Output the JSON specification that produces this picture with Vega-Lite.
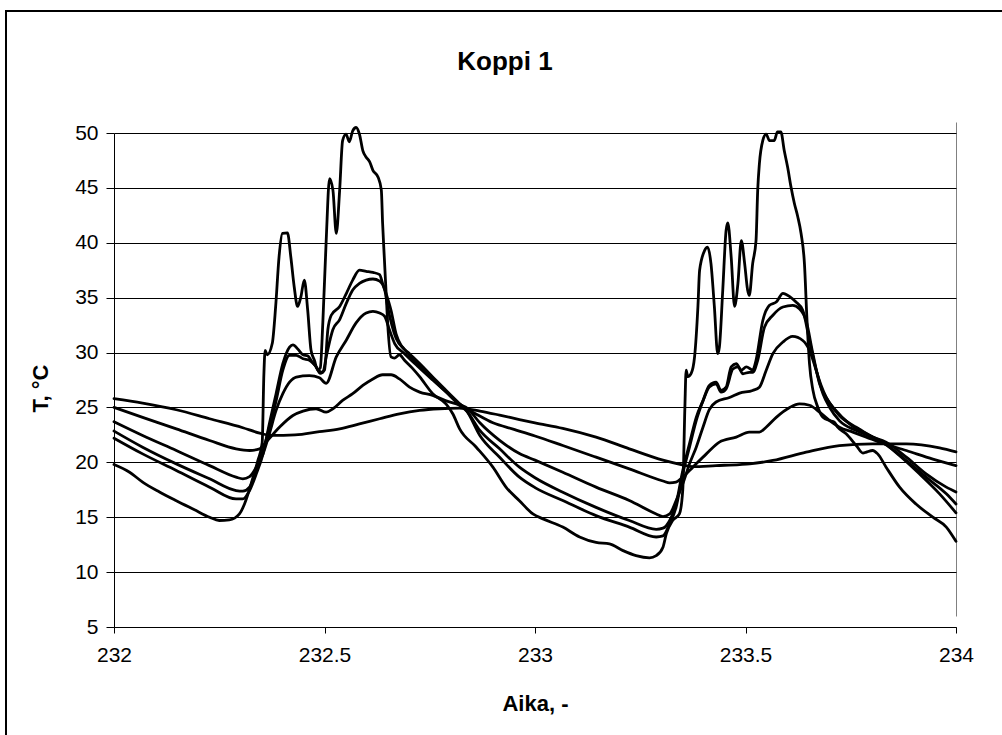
{
  "$schema": "https://vega.github.io/schema/vega-lite/v6.json",
  "width": 998,
  "height": 727,
  "autosize": {"type": "none"},
  "padding": {"left": 6, "top": 11, "right": -2, "bottom": -3},
  "background": "white",
  "config": {
    "font": "Liberation Sans",
    "view": {"stroke": "black", "strokeWidth": 2}
  },
  "title": {
    "text": "Koppi 1",
    "font": "Liberation Sans",
    "fontSize": 26,
    "fontWeight": "bold",
    "color": "black",
    "anchor": "middle",
    "offset": -64
  },
  "data": {
    "values": [
      {"s":"A","x":232.0,"t":19.8},{"s":"A","x":232.037,"t":19.1},{"s":"A","x":232.068,"t":18.2},{"s":"A","x":232.108,"t":17.3},{"s":"A","x":232.148,"t":16.5},{"s":"A","x":232.19,"t":15.7},{"s":"A","x":232.227,"t":15.0},{"s":"A","x":232.25,"t":14.7},{"s":"A","x":232.274,"t":14.75},{"s":"A","x":232.298,"t":15.3},{"s":"A","x":232.31,"t":16.2},{"s":"A","x":232.33,"t":18.6},{"s":"A","x":232.342,"t":20.2},{"s":"A","x":232.352,"t":21.8},{"s":"A","x":232.356,"t":28.0},{"s":"A","x":232.359,"t":30.2},{"s":"A","x":232.364,"t":29.8},{"s":"A","x":232.376,"t":30.85},{"s":"A","x":232.384,"t":34.2},{"s":"A","x":232.392,"t":38.7},{"s":"A","x":232.4,"t":40.85},{"s":"A","x":232.412,"t":40.9},{"s":"A","x":232.42,"t":38.7},{"s":"A","x":232.428,"t":36.0},{"s":"A","x":232.436,"t":34.2},{"s":"A","x":232.444,"t":35.1},{"s":"A","x":232.452,"t":36.6},{"s":"A","x":232.46,"t":33.9},{"s":"A","x":232.468,"t":30.2},{"s":"A","x":232.476,"t":29.3},{"s":"A","x":232.484,"t":28.4},{"s":"A","x":232.49,"t":28.6},{"s":"A","x":232.496,"t":32.7},{"s":"A","x":232.504,"t":40.2},{"s":"A","x":232.512,"t":45.85},{"s":"A","x":232.52,"t":44.8},{"s":"A","x":232.528,"t":40.85},{"s":"A","x":232.536,"t":44.8},{"s":"A","x":232.543,"t":49.3},{"s":"A","x":232.551,"t":49.9},{"s":"A","x":232.559,"t":49.2},{"s":"A","x":232.567,"t":50.2},{"s":"A","x":232.575,"t":50.5},{"s":"A","x":232.583,"t":49.9},{"s":"A","x":232.591,"t":48.4},{"s":"A","x":232.599,"t":47.8},{"s":"A","x":232.607,"t":47.4},{"s":"A","x":232.615,"t":46.6},{"s":"A","x":232.627,"t":46.0},{"s":"A","x":232.635,"t":44.8},{"s":"A","x":232.638,"t":41.8},{"s":"A","x":232.642,"t":38.7},{"s":"A","x":232.646,"t":35.7},{"s":"A","x":232.65,"t":32.7},{"s":"A","x":232.658,"t":29.6},{"s":"A","x":232.666,"t":29.5},{"s":"A","x":232.678,"t":29.8},{"s":"A","x":232.69,"t":29.3},{"s":"A","x":232.708,"t":28.6},{"s":"A","x":232.726,"t":27.8},{"s":"A","x":232.757,"t":26.25},{"s":"A","x":232.789,"t":25.3},{"s":"A","x":232.805,"t":24.4},{"s":"A","x":232.821,"t":23.05},{"s":"A","x":232.86,"t":21.4},{"s":"A","x":232.9,"t":19.56},{"s":"A","x":232.932,"t":17.7},{"s":"A","x":232.963,"t":16.5},{"s":"A","x":232.995,"t":15.3},{"s":"A","x":233.019,"t":14.85},{"s":"A","x":233.066,"t":14.1},{"s":"A","x":233.106,"t":13.2},{"s":"A","x":233.145,"t":12.7},{"s":"A","x":233.177,"t":12.57},{"s":"A","x":233.209,"t":11.96},{"s":"A","x":233.24,"t":11.5},{"s":"A","x":233.272,"t":11.3},{"s":"A","x":233.288,"t":11.5},{"s":"A","x":233.304,"t":12.27},{"s":"A","x":233.312,"t":13.5},{"s":"A","x":233.327,"t":14.7},{"s":"A","x":233.343,"t":15.3},{"s":"A","x":233.351,"t":17.5},{"s":"A","x":233.356,"t":25.0},{"s":"A","x":233.359,"t":28.4},{"s":"A","x":233.363,"t":27.8},{"s":"A","x":233.371,"t":28.1},{"s":"A","x":233.379,"t":29.6},{"s":"A","x":233.387,"t":34.2},{"s":"A","x":233.391,"t":37.5},{"s":"A","x":233.403,"t":39.3},{"s":"A","x":233.41,"t":39.6},{"s":"A","x":233.418,"t":38.1},{"s":"A","x":233.426,"t":34.2},{"s":"A","x":233.434,"t":29.9},{"s":"A","x":233.438,"t":30.5},{"s":"A","x":233.446,"t":35.7},{"s":"A","x":233.454,"t":41.15},{"s":"A","x":233.458,"t":41.8},{"s":"A","x":233.466,"t":38.7},{"s":"A","x":233.474,"t":34.2},{"s":"A","x":233.482,"t":36.3},{"s":"A","x":233.49,"t":40.2},{"s":"A","x":233.498,"t":38.1},{"s":"A","x":233.505,"t":35.7},{"s":"A","x":233.509,"t":35.2},{"s":"A","x":233.517,"t":38.1},{"s":"A","x":233.525,"t":40.2},{"s":"A","x":233.529,"t":44.8},{"s":"A","x":233.533,"t":47.2},{"s":"A","x":233.541,"t":49.3},{"s":"A","x":233.549,"t":49.9},{"s":"A","x":233.557,"t":49.3},{"s":"A","x":233.568,"t":49.3},{"s":"A","x":233.576,"t":50.1},{"s":"A","x":233.584,"t":50.1},{"s":"A","x":233.592,"t":48.4},{"s":"A","x":233.6,"t":46.9},{"s":"A","x":233.608,"t":45.1},{"s":"A","x":233.616,"t":43.6},{"s":"A","x":233.624,"t":42.4},{"s":"A","x":233.632,"t":40.85},{"s":"A","x":233.64,"t":38.1},{"s":"A","x":233.646,"t":33.0},{"s":"A","x":233.652,"t":29.0},{"s":"A","x":233.66,"t":26.6},{"s":"A","x":233.672,"t":25.0},{"s":"A","x":233.684,"t":24.1},{"s":"A","x":233.7,"t":23.8},{"s":"A","x":233.711,"t":23.66},{"s":"A","x":233.719,"t":23.2},{"s":"A","x":233.739,"t":22.6},{"s":"A","x":233.763,"t":21.53},{"s":"A","x":233.779,"t":20.84},{"s":"A","x":233.787,"t":20.93},{"s":"A","x":233.802,"t":21.08},{"s":"A","x":233.814,"t":20.77},{"s":"A","x":233.834,"t":19.56},{"s":"A","x":233.866,"t":17.74},{"s":"A","x":233.905,"t":16.2},{"s":"A","x":233.945,"t":15.0},{"s":"A","x":233.977,"t":14.1},{"s":"A","x":234.0,"t":12.8},

      {"s":"B","x":232.0,"t":22.2},{"s":"B","x":232.068,"t":20.77},{"s":"B","x":232.148,"t":19.26},{"s":"B","x":232.227,"t":17.74},{"s":"B","x":232.29,"t":16.67},{"s":"B","x":232.306,"t":16.67},{"s":"B","x":232.322,"t":17.43},{"s":"B","x":232.338,"t":18.95},{"s":"B","x":232.354,"t":20.77},{"s":"B","x":232.369,"t":23.5},{"s":"B","x":232.385,"t":26.25},{"s":"B","x":232.401,"t":28.98},{"s":"B","x":232.417,"t":30.5},{"s":"B","x":232.425,"t":30.7},{"s":"B","x":232.437,"t":30.3},{"s":"B","x":232.449,"t":29.8},{"s":"B","x":232.46,"t":29.7},{"s":"B","x":232.468,"t":29.3},{"s":"B","x":232.48,"t":28.7},{"s":"B","x":232.49,"t":28.1},{"s":"B","x":232.5,"t":28.4},{"s":"B","x":232.508,"t":32.1},{"s":"B","x":232.516,"t":33.4},{"s":"B","x":232.536,"t":34.2},{"s":"B","x":232.552,"t":35.4},{"s":"B","x":232.567,"t":36.6},{"s":"B","x":232.583,"t":37.5},{"s":"B","x":232.599,"t":37.4},{"s":"B","x":232.615,"t":37.3},{"s":"B","x":232.631,"t":37.1},{"s":"B","x":232.638,"t":36.3},{"s":"B","x":232.647,"t":35.3},{"s":"B","x":232.658,"t":33.85},{"s":"B","x":232.67,"t":31.7},{"s":"B","x":232.682,"t":30.65},{"s":"B","x":232.702,"t":29.9},{"s":"B","x":232.726,"t":29.0},{"s":"B","x":232.757,"t":27.77},{"s":"B","x":232.789,"t":26.55},{"s":"B","x":232.821,"t":25.33},{"s":"B","x":232.837,"t":24.73},{"s":"B","x":232.869,"t":22.45},{"s":"B","x":232.916,"t":20.47},{"s":"B","x":232.963,"t":18.65},{"s":"B","x":233.0,"t":17.7},{"s":"B","x":233.066,"t":16.52},{"s":"B","x":233.145,"t":15.15},{"s":"B","x":233.224,"t":14.1},{"s":"B","x":233.288,"t":13.2},{"s":"B","x":233.304,"t":13.3},{"s":"B","x":233.32,"t":14.4},{"s":"B","x":233.335,"t":15.9},{"s":"B","x":233.351,"t":18.95},{"s":"B","x":233.367,"t":21.38},{"s":"B","x":233.383,"t":23.8},{"s":"B","x":233.399,"t":25.6},{"s":"B","x":233.414,"t":27.0},{"s":"B","x":233.43,"t":27.3},{"s":"B","x":233.442,"t":26.55},{"s":"B","x":233.454,"t":26.85},{"s":"B","x":233.466,"t":28.7},{"s":"B","x":233.478,"t":28.98},{"s":"B","x":233.49,"t":28.4},{"s":"B","x":233.502,"t":28.7},{"s":"B","x":233.517,"t":28.4},{"s":"B","x":233.525,"t":29.3},{"s":"B","x":233.541,"t":32.9},{"s":"B","x":233.557,"t":34.3},{"s":"B","x":233.573,"t":34.6},{"s":"B","x":233.589,"t":35.4},{"s":"B","x":233.605,"t":35.1},{"s":"B","x":233.62,"t":34.6},{"s":"B","x":233.636,"t":33.85},{"s":"B","x":233.652,"t":31.1},{"s":"B","x":233.668,"t":28.4},{"s":"B","x":233.692,"t":25.9},{"s":"B","x":233.715,"t":24.7},{"s":"B","x":233.747,"t":23.5},{"s":"B","x":233.787,"t":22.6},{"s":"B","x":233.826,"t":21.84},{"s":"B","x":233.866,"t":20.6},{"s":"B","x":233.913,"t":18.95},{"s":"B","x":233.961,"t":17.13},{"s":"B","x":234.0,"t":15.4},

      {"s":"C","x":232.0,"t":22.85},{"s":"C","x":232.068,"t":21.38},{"s":"C","x":232.148,"t":19.86},{"s":"C","x":232.227,"t":18.5},{"s":"C","x":232.29,"t":17.43},{"s":"C","x":232.306,"t":17.37},{"s":"C","x":232.322,"t":17.74},{"s":"C","x":232.338,"t":19.26},{"s":"C","x":232.354,"t":21.08},{"s":"C","x":232.369,"t":23.2},{"s":"C","x":232.385,"t":25.6},{"s":"C","x":232.401,"t":28.4},{"s":"C","x":232.417,"t":29.74},{"s":"C","x":232.433,"t":29.74},{"s":"C","x":232.449,"t":29.44},{"s":"C","x":232.464,"t":29.3},{"s":"C","x":232.476,"t":28.9},{"s":"C","x":232.488,"t":28.3},{"s":"C","x":232.496,"t":28.2},{"s":"C","x":232.504,"t":29.6},{"s":"C","x":232.52,"t":32.1},{"s":"C","x":232.536,"t":33.0},{"s":"C","x":232.552,"t":34.5},{"s":"C","x":232.567,"t":35.7},{"s":"C","x":232.583,"t":36.3},{"s":"C","x":232.599,"t":36.6},{"s":"C","x":232.615,"t":36.7},{"s":"C","x":232.631,"t":36.5},{"s":"C","x":232.643,"t":35.7},{"s":"C","x":232.65,"t":34.2},{"s":"C","x":232.66,"t":32.5},{"s":"C","x":232.67,"t":31.3},{"s":"C","x":232.69,"t":30.3},{"s":"C","x":232.72,"t":29.0},{"s":"C","x":232.757,"t":27.6},{"s":"C","x":232.789,"t":26.4},{"s":"C","x":232.821,"t":25.2},{"s":"C","x":232.837,"t":24.7},{"s":"C","x":232.869,"t":22.9},{"s":"C","x":232.916,"t":21.23},{"s":"C","x":232.963,"t":19.56},{"s":"C","x":233.0,"t":18.6},{"s":"C","x":233.066,"t":17.28},{"s":"C","x":233.145,"t":15.9},{"s":"C","x":233.224,"t":14.7},{"s":"C","x":233.288,"t":13.9},{"s":"C","x":233.304,"t":14.0},{"s":"C","x":233.32,"t":14.7},{"s":"C","x":233.335,"t":16.2},{"s":"C","x":233.351,"t":19.26},{"s":"C","x":233.367,"t":21.7},{"s":"C","x":233.383,"t":24.1},{"s":"C","x":233.399,"t":25.6},{"s":"C","x":233.414,"t":26.85},{"s":"C","x":233.43,"t":27.16},{"s":"C","x":233.442,"t":26.4},{"s":"C","x":233.454,"t":26.7},{"s":"C","x":233.47,"t":28.5},{"s":"C","x":233.482,"t":28.7},{"s":"C","x":233.494,"t":28.07},{"s":"C","x":233.509,"t":28.2},{"s":"C","x":233.517,"t":28.2},{"s":"C","x":233.529,"t":29.3},{"s":"C","x":233.545,"t":32.3},{"s":"C","x":233.565,"t":33.4},{"s":"C","x":233.589,"t":34.15},{"s":"C","x":233.612,"t":34.3},{"s":"C","x":233.628,"t":34.0},{"s":"C","x":233.644,"t":32.9},{"s":"C","x":233.66,"t":29.9},{"s":"C","x":233.676,"t":27.16},{"s":"C","x":233.696,"t":25.64},{"s":"C","x":233.723,"t":24.27},{"s":"C","x":233.763,"t":23.2},{"s":"C","x":233.802,"t":22.3},{"s":"C","x":233.842,"t":21.38},{"s":"C","x":233.882,"t":20.17},{"s":"C","x":233.929,"t":18.65},{"s":"C","x":233.977,"t":17.13},{"s":"C","x":234.0,"t":16.2},

      {"s":"D","x":232.0,"t":23.7},{"s":"D","x":232.068,"t":22.45},{"s":"D","x":232.148,"t":21.08},{"s":"D","x":232.227,"t":19.7},{"s":"D","x":232.29,"t":18.65},{"s":"D","x":232.306,"t":18.5},{"s":"D","x":232.322,"t":18.7},{"s":"D","x":232.338,"t":19.56},{"s":"D","x":232.354,"t":20.77},{"s":"D","x":232.369,"t":22.6},{"s":"D","x":232.385,"t":24.73},{"s":"D","x":232.401,"t":26.25},{"s":"D","x":232.417,"t":27.3},{"s":"D","x":232.433,"t":27.77},{"s":"D","x":232.464,"t":27.9},{"s":"D","x":232.488,"t":27.7},{"s":"D","x":232.504,"t":27.2},{"s":"D","x":232.528,"t":29.6},{"s":"D","x":232.552,"t":31.15},{"s":"D","x":232.575,"t":32.7},{"s":"D","x":232.599,"t":33.6},{"s":"D","x":232.615,"t":33.75},{"s":"D","x":232.631,"t":33.6},{"s":"D","x":232.643,"t":33.3},{"s":"D","x":232.654,"t":32.1},{"s":"D","x":232.667,"t":30.8},{"s":"D","x":232.69,"t":29.9},{"s":"D","x":232.72,"t":28.8},{"s":"D","x":232.757,"t":27.5},{"s":"D","x":232.789,"t":26.4},{"s":"D","x":232.821,"t":25.3},{"s":"D","x":232.84,"t":24.9},{"s":"D","x":232.869,"t":23.6},{"s":"D","x":232.916,"t":22.0},{"s":"D","x":232.963,"t":20.8},{"s":"D","x":233.0,"t":20.2},{"s":"D","x":233.066,"t":19.1},{"s":"D","x":233.145,"t":17.74},{"s":"D","x":233.224,"t":16.52},{"s":"D","x":233.288,"t":15.3},{"s":"D","x":233.304,"t":15.06},{"s":"D","x":233.32,"t":15.3},{"s":"D","x":233.335,"t":16.5},{"s":"D","x":233.351,"t":18.04},{"s":"D","x":233.367,"t":19.86},{"s":"D","x":233.383,"t":21.38},{"s":"D","x":233.399,"t":23.2},{"s":"D","x":233.414,"t":24.8},{"s":"D","x":233.43,"t":25.5},{"s":"D","x":233.462,"t":25.9},{"s":"D","x":233.486,"t":26.3},{"s":"D","x":233.517,"t":26.55},{"s":"D","x":233.533,"t":26.85},{"s":"D","x":233.549,"t":28.37},{"s":"D","x":233.565,"t":29.9},{"s":"D","x":233.589,"t":30.96},{"s":"D","x":233.612,"t":31.47},{"s":"D","x":233.636,"t":31.1},{"s":"D","x":233.652,"t":30.2},{"s":"D","x":233.668,"t":28.37},{"s":"D","x":233.684,"t":26.25},{"s":"D","x":233.7,"t":25.0},{"s":"D","x":233.723,"t":23.8},{"s":"D","x":233.763,"t":22.9},{"s":"D","x":233.802,"t":22.3},{"s":"D","x":233.834,"t":21.84},{"s":"D","x":233.882,"t":20.47},{"s":"D","x":233.929,"t":18.95},{"s":"D","x":233.977,"t":17.74},{"s":"D","x":234.0,"t":17.3},

      {"s":"E","x":232.0,"t":25.0},{"s":"E","x":232.068,"t":24.1},{"s":"E","x":232.148,"t":23.05},{"s":"E","x":232.227,"t":21.99},{"s":"E","x":232.29,"t":21.23},{"s":"E","x":232.322,"t":21.08},{"s":"E","x":232.346,"t":21.23},{"s":"E","x":232.361,"t":21.84},{"s":"E","x":232.393,"t":23.2},{"s":"E","x":232.425,"t":24.27},{"s":"E","x":232.449,"t":24.67},{"s":"E","x":232.48,"t":24.88},{"s":"E","x":232.504,"t":24.57},{"s":"E","x":232.52,"t":24.88},{"s":"E","x":232.543,"t":25.64},{"s":"E","x":232.567,"t":26.25},{"s":"E","x":232.591,"t":27.0},{"s":"E","x":232.615,"t":27.6},{"s":"E","x":232.638,"t":27.98},{"s":"E","x":232.658,"t":27.98},{"s":"E","x":232.678,"t":27.6},{"s":"E","x":232.702,"t":26.85},{"s":"E","x":232.726,"t":26.4},{"s":"E","x":232.757,"t":26.1},{"s":"E","x":232.789,"t":25.6},{"s":"E","x":232.821,"t":25.2},{"s":"E","x":232.852,"t":24.57},{"s":"E","x":232.9,"t":23.6},{"s":"E","x":232.95,"t":23.0},{"s":"E","x":233.0,"t":22.4},{"s":"E","x":233.066,"t":21.53},{"s":"E","x":233.145,"t":20.47},{"s":"E","x":233.224,"t":19.4},{"s":"E","x":233.304,"t":18.3},{"s":"E","x":233.32,"t":18.13},{"s":"E","x":233.335,"t":18.2},{"s":"E","x":233.351,"t":18.65},{"s":"E","x":233.375,"t":19.56},{"s":"E","x":233.407,"t":20.77},{"s":"E","x":233.438,"t":21.84},{"s":"E","x":233.478,"t":22.3},{"s":"E","x":233.509,"t":22.75},{"s":"E","x":233.533,"t":22.75},{"s":"E","x":233.549,"t":23.2},{"s":"E","x":233.573,"t":24.1},{"s":"E","x":233.605,"t":25.0},{"s":"E","x":233.628,"t":25.33},{"s":"E","x":233.652,"t":25.2},{"s":"E","x":233.676,"t":24.57},{"s":"E","x":233.7,"t":23.8},{"s":"E","x":233.723,"t":23.2},{"s":"E","x":233.755,"t":22.75},{"s":"E","x":233.787,"t":22.3},{"s":"E","x":233.818,"t":21.84},{"s":"E","x":233.882,"t":21.08},{"s":"E","x":233.945,"t":20.3},{"s":"E","x":234.0,"t":19.7},

      {"s":"F","x":232.0,"t":25.8},{"s":"F","x":232.068,"t":25.4},{"s":"F","x":232.148,"t":24.79},{"s":"F","x":232.227,"t":23.97},{"s":"F","x":232.306,"t":23.15},{"s":"F","x":232.346,"t":22.66},{"s":"F","x":232.375,"t":22.45},{"s":"F","x":232.43,"t":22.5},{"s":"F","x":232.488,"t":22.8},{"s":"F","x":232.536,"t":23.05},{"s":"F","x":232.583,"t":23.5},{"s":"F","x":232.631,"t":23.97},{"s":"F","x":232.678,"t":24.42},{"s":"F","x":232.726,"t":24.73},{"s":"F","x":232.773,"t":24.88},{"s":"F","x":232.82,"t":24.94},{"s":"F","x":232.869,"t":24.67},{"s":"F","x":232.916,"t":24.3},{"s":"F","x":232.963,"t":23.9},{"s":"F","x":233.0,"t":23.6},{"s":"F","x":233.066,"t":23.1},{"s":"F","x":233.145,"t":22.3},{"s":"F","x":233.224,"t":21.23},{"s":"F","x":233.304,"t":20.2},{"s":"F","x":233.347,"t":19.8},{"s":"F","x":233.375,"t":19.6},{"s":"F","x":233.43,"t":19.7},{"s":"F","x":233.486,"t":19.8},{"s":"F","x":233.51,"t":19.86},{"s":"F","x":233.565,"t":20.17},{"s":"F","x":233.644,"t":20.93},{"s":"F","x":233.723,"t":21.53},{"s":"F","x":233.802,"t":21.69},{"s":"F","x":233.882,"t":21.69},{"s":"F","x":233.961,"t":21.32},{"s":"F","x":234.0,"t":20.95}
    ]
  },
  "mark": {
    "type": "line",
    "color": "black",
    "strokeWidth": 2.8,
    "strokeJoin": "round",
    "strokeCap": "round",
    "interpolate": "monotone"
  },
  "encoding": {
    "detail": {"field": "s", "type": "nominal"},
    "x": {
      "field": "x",
      "type": "quantitative",
      "scale": {"domain": [232, 234], "range": [108, 950], "nice": false, "zero": false},
      "axis": {
        "values": [232, 232.5, 233, 233.5, 234],
        "format": "~g",
        "offset": -111,
        "domainColor": "black",
        "domainWidth": 1,
        "tickColor": "black",
        "tickSize": 6,
        "tickWidth": 1,
        "labelFont": "Liberation Sans",
        "labelFontSize": 21,
        "labelColor": "black",
        "labelBaseline": "alphabetic",
        "labelPadding": 28,
        "labelFlush": false,
        "labelOverlap": false,
        "grid": true,
        "gridColor": "#808080",
        "gridWidth": 1,
        "gridOpacity": {"condition": {"test": "datum.value == 234", "value": 1}, "value": 0},
        "title": "Aika, -",
        "titleFont": "Liberation Sans",
        "titleFontSize": 22,
        "titleFontWeight": "bold",
        "titleColor": "black",
        "titleBaseline": "alphabetic",
        "titleY": 83
      }
    },
    "y": {
      "field": "t",
      "type": "quantitative",
      "scale": {"domain": [5, 50], "range": [616, 122], "nice": false, "zero": false},
      "axis": {
        "values": [5, 10, 15, 20, 25, 30, 35, 40, 45, 50],
        "offset": -108,
        "domainColor": "black",
        "domainWidth": 1,
        "tickColor": "black",
        "tickSize": 8,
        "tickWidth": 1,
        "labelFont": "Liberation Sans",
        "labelFontSize": 21,
        "labelColor": "black",
        "labelPadding": 8,
        "labelOverlap": false,
        "labelFlush": false,
        "grid": true,
        "gridColor": "black",
        "gridWidth": 1,
        "title": "T, °C",
        "titleFont": "Liberation Sans",
        "titleFontSize": 22,
        "titleFontWeight": "bold",
        "titleColor": "black",
        "titleAngle": -90,
        "titleAlign": "center",
        "titleBaseline": "middle",
        "titleX": -74,
        "titleY": 377
      }
    }
  }
}
